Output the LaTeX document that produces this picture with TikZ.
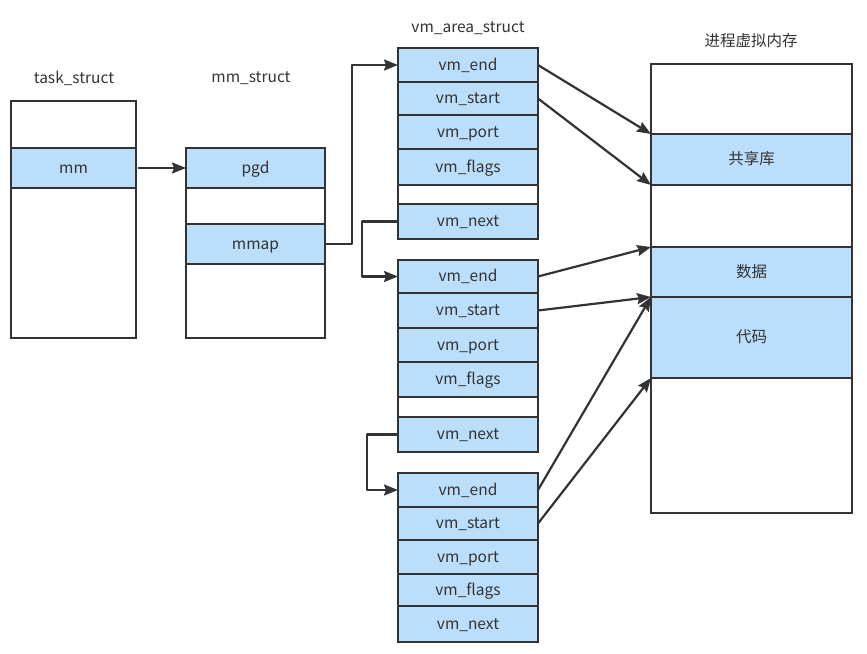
\documentclass[tikz,border=0pt]{standalone}
\usepackage{fontspec}
\setmainfont{Noto Sans CJK SC}
\usetikzlibrary{arrows.meta}
\definecolor{lc}{HTML}{333333}
\definecolor{bl}{HTML}{BBDEFA}
\begin{document}
\begin{tikzpicture}[x=1pt,y=-1pt,
  cell/.style={draw=lc, line width=2.2pt, fill=white, anchor=north west,
    inner sep=0pt, outer sep=0pt, text=lc, font=\fontsize{15.5}{17}\selectfont,
    text depth=0pt, text height=1.95ex},
  hl/.style={cell, fill=bl},
  ttl/.style={text=lc, font=\fontsize{15.5}{17}\selectfont, inner sep=0pt},
  link/.style={draw=lc, line width=2.2pt, line join=round,
    -{Stealth[length=14pt,width=11pt,inset=2pt]}}]
\useasboundingbox (0,0) rectangle (867,653);

% titles
\node[ttl] (ttask) at (74,78) {task\_struct};
\node[ttl] (tmm) at (251,78) {mm\_struct};
\node[ttl] (tvma) at (468,28) {vm\_area\_struct};
\node[ttl] (tvm) at (751,41) {进程虚拟内存};

% task_struct
\begin{scope}[every node/.append style={minimum width=125pt}]
\node[cell, minimum height=47pt] (t0) at (11,101) {};
\node[hl, minimum height=40pt] (tmmf) at (11,148) {mm};
\node[cell, minimum height=150pt] (t2) at (11,188) {};
\end{scope}

% mm_struct
\begin{scope}[every node/.append style={minimum width=139pt}]
\node[hl, minimum height=40pt] (mpgd) at (186,148) {pgd};
\node[cell, minimum height=36pt] (m1) at (186,188) {};
\node[hl, minimum height=40pt] (mmap) at (186,224) {mmap};
\node[cell, minimum height=74pt] (m3) at (186,264) {};
\end{scope}

% vm_area_struct chain
\begin{scope}[every node/.append style={minimum width=140pt}]
\node[hl, minimum height=34pt] (aend) at (398,48) {vm\_end};
\node[hl, minimum height=33pt] (astart) at (398,82) {vm\_start};
\node[hl, minimum height=34pt] (aport) at (398,115) {vm\_port};
\node[hl, minimum height=36pt] (aflags) at (398,149) {vm\_flags};
\node[cell, minimum height=19pt] (agap) at (398,185) {};
\node[hl, minimum height=35pt] (anext) at (398,204) {vm\_next};

\node[hl, minimum height=33pt] (bend) at (398,260) {vm\_end};
\node[hl, minimum height=35pt] (bstart) at (398,293) {vm\_start};
\node[hl, minimum height=34pt] (bport) at (398,328) {vm\_port};
\node[hl, minimum height=35pt] (bflags) at (398,362) {vm\_flags};
\node[cell, minimum height=20pt] (bgap) at (398,397) {};
\node[hl, minimum height=35pt] (bnext) at (398,417) {vm\_next};

\node[hl, minimum height=34pt] (cend) at (398,473) {vm\_end};
\node[hl, minimum height=33pt] (cstart) at (398,507) {vm\_start};
\node[hl, minimum height=34pt] (cport) at (398,540) {vm\_port};
\node[hl, minimum height=32pt] (cflags) at (398,574) {vm\_flags};
\node[hl, minimum height=36pt] (cnext) at (398,606) {vm\_next};
\end{scope}

% process virtual memory
\begin{scope}[every node/.append style={minimum width=201pt}]
\node[cell, minimum height=70pt] (v0) at (651,64) {};
\node[hl, minimum height=51pt] (vlib) at (651,134) {共享库};
\node[cell, minimum height=62pt] (v1) at (651,185) {};
\node[hl, minimum height=50pt] (vdata) at (651,247) {数据};
\node[hl, minimum height=81pt] (vcode) at (651,297) {代码};
\node[cell, minimum height=135pt] (v2) at (651,378) {};
\end{scope}

% pointers
\draw[link] ([xshift=2pt]tmmf.east) -- (mpgd.west);
\draw[link] (mmap.east) -- ++(27,0) |- (aend.west);
\draw[link] (anext.west) -- ++(-36,0) |- (bend.west);
\draw[link] (bnext.west) -- ++(-31,0) |- (cend.west);

\draw[link] (aend.east) -- (vlib.north west);
\draw[link] (astart.east) -- (vlib.south west);
\draw[link] (bend.east) -- (vdata.north west);
\draw[link] (bstart.east) -- (vcode.north west);
\draw[link] (cend.east) -- (vcode.north west);
\draw[link] (cstart.east) -- (vcode.south west);
\end{tikzpicture}
\end{document}
